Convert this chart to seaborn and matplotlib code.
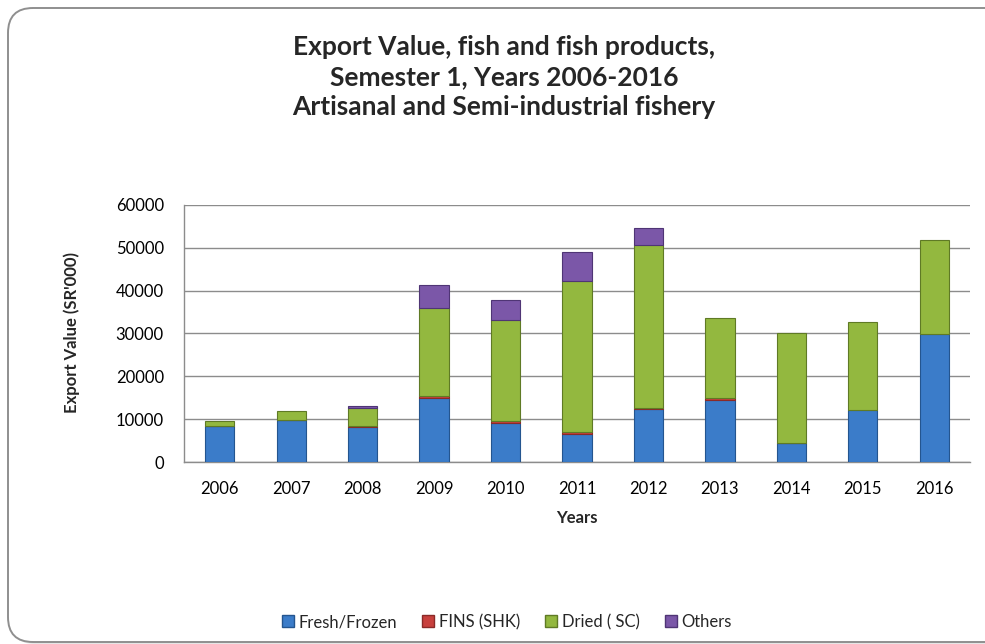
import matplotlib
matplotlib.use("Agg")
import matplotlib.pyplot as plt
import seaborn as sns
import numpy as np
import pandas as pd
from matplotlib.patches import FancyBboxPatch, Patch

years = ["2006", "2007", "2008", "2009", "2010", "2011", "2012", "2013", "2014", "2015", "2016"]
fresh_frozen = [8300, 9700, 8200, 15000, 9200, 6500, 12300, 14500, 4400, 12200, 29900]
fins_shk =     [200, 100, 300, 400, 400, 400, 400, 500, 100, 0, 0]
dried_sc =     [1100, 2000, 4100, 20500, 23450, 35370, 37900, 18600, 25600, 20460, 21900]
others =       [0, 0, 450, 5350, 4850, 6800, 4100, 0, 0, 0, 0]

series_names = ["Fresh/Frozen", "FINS (SHK)", "Dried ( SC)", "Others"]
series_vals = [fresh_frozen, fins_shk, dried_sc, others]
colors = ["#3b7cc9", "#c8403d", "#93b83f", "#7b57a8"]
edges = ["#24558f", "#8a2a28", "#5f7a25", "#4f3575"]

sns.set_theme(style="white")
plt.rcParams['font.family'] = ['Lato', 'DejaVu Sans']

fig = plt.figure(figsize=(9.85, 6.44), dpi=100)
fig.patch.set_facecolor("white")

# chart border (right edge runs off the canvas), with a faint shadow
shadow = FancyBboxPatch((0.10, 0.0), 10.2, 6.36, boxstyle="round,pad=0,rounding_size=0.25",
                        transform=fig.dpi_scale_trans, facecolor="#e6e6e6", edgecolor="none",
                        zorder=-11)
border = FancyBboxPatch((0.08, 0.02), 10.2, 6.34, boxstyle="round,pad=0,rounding_size=0.25",
                        transform=fig.dpi_scale_trans, facecolor="white", edgecolor="#8f8f8f",
                        linewidth=1.4, zorder=-10)
fig.patches.append(shadow)
fig.patches.append(border)

ax = fig.add_axes([0.1868, 0.2826, 0.798, 0.3991])

bottom = np.zeros(len(years))
for name, vals, c, ec in zip(series_names, series_vals, colors, edges):
    df = pd.DataFrame({"Year": years, "Value": vals})
    sns.barplot(data=df, x="Year", y="Value", bottom=bottom, color=c, width=0.41,
                edgecolor=ec, linewidth=0.8, ax=ax, saturation=1, zorder=3)
    bottom = bottom + np.array(vals)

# hide outlines of empty (zero-height) segments
for p in ax.patches:
    if p.get_height() == 0:
        p.set_linewidth(0)
        p.set_visible(False)

ax.set_ylim(0, 60000)
ax.set_xlim(-0.5, len(years) - 0.5)
ax.set_yticks(np.arange(0, 60001, 10000))
ax.set_yticklabels([str(v) for v in range(0, 60001, 10000)], fontsize=12, color="#000000")
ax.tick_params(axis="x", labelsize=12, length=0, pad=14, colors="#000000")
ax.set_xticks(np.arange(-0.5, len(years), 1.0), minor=True)
ax.tick_params(axis="x", which="minor", length=4.5, color="#8c8c8c", direction="out", width=1)
ax.tick_params(axis="y", length=4.5, color="#8c8c8c", direction="out", pad=10, width=1)
ax.grid(axis="y", color="#8c8c8c", linewidth=1.0, zorder=0)
ax.set_axisbelow(True)
for s in ["top", "right"]:
    ax.spines[s].set_visible(False)
for s in ["left", "bottom"]:
    ax.spines[s].set_color("#8c8c8c")
    ax.spines[s].set_linewidth(1.0)

ax.set_xlabel("Years", fontsize=12, fontweight="bold", labelpad=9)
ax.set_ylabel("")
fig.text(72 / 985, 1 - 333 / 644, "Export Value (SR'000)", rotation=90, ha="center", va="center",
         fontsize=12, fontweight="bold")

fig.text(504 / 985, 1 - 77 / 644, "Export Value, fish and fish products,\nSemester 1, Years 2006-2016\nArtisanal and Semi-industrial fishery",
         ha="center", va="center", fontsize=19, fontweight="bold", linespacing=1.3)

handles = [Patch(facecolor=c, edgecolor=ec, label=n) for n, c, ec in zip(series_names, colors, edges)]
fig.legend(handles=handles, loc="center", bbox_to_anchor=(507 / 985, 1 - 622 / 644), ncol=4, frameon=False,
           fontsize=12, handlelength=0.7, handleheight=0.7, handletextpad=0.3, columnspacing=1.5)

fig.savefig("out.png", dpi=100)
